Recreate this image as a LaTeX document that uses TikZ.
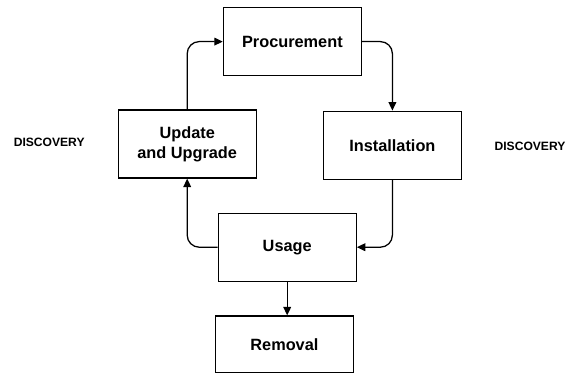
\documentclass[tikz,border=0pt]{standalone}
\usepackage{fontspec}
\setmainfont{Liberation Sans}
\usepackage{tikz}
\usetikzlibrary{arrows.meta,positioning,calc}

\begin{document}
\begin{tikzpicture}[font=\bfseries,
  stage/.style={draw, line width=0.9pt, minimum width=3.45cm, minimum height=1.7cm, align=center, font=\fontsize{11.6}{14}\selectfont\bfseries},
  flow/.style={-{Triangle[length=6pt,width=5.5pt]}, line width=0.9pt, rounded corners=0.3cm},
  side/.style={font=\fontsize{8.6}{10}\selectfont\bfseries}]
\useasboundingbox (0,0) rectangle (14.2,9.6);
% lifecycle stages
\node[stage] (proc) at (7.31,8.56) {Procurement};
\node[stage] (upd) at (4.68,6.00) {Update\\and Upgrade};
\node[stage] (inst) at (9.81,5.97) {Installation};
\node[stage] (use) at (7.18,3.42) {Usage};
\node[stage, minimum height=1.42cm] (rem) at (7.11,0.99) {Removal};
\node[side] (discl) at (1.23,6.05) {DISCOVERY};
\node[side] (discr) at (13.25,5.93) {DISCOVERY};
% cycle
\draw[flow] (upd.north) |- (proc.west);
\draw[flow] (proc.east) -| (inst.north);
\draw[flow] (inst.south) |- (use.east);
\draw[flow] (use.west) -| (upd.south);
\draw[flow] (use.south) -- (use.south |- rem.north);
\end{tikzpicture}
\end{document}
